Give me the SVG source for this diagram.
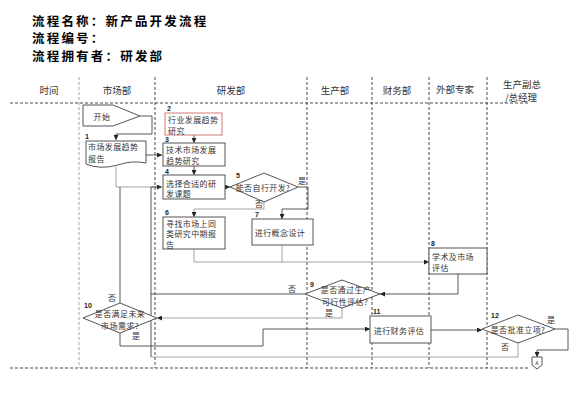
<svg xmlns="http://www.w3.org/2000/svg" width="577" height="400" viewBox="0 0 577 400">
<style>
.title{font-family:"Noto Sans CJK SC","Liberation Sans",sans-serif;font-size:12.5px;letter-spacing:2.2px;font-weight:bold;fill:#000}
.hdr{font-family:"Noto Sans CJK SC","Liberation Sans",sans-serif;font-size:9.5px;fill:#333}
.t{font-family:"Noto Sans CJK SC","Liberation Sans",sans-serif;font-size:8px;letter-spacing:0.4px;fill:#333}
.n{font-family:"Liberation Sans",sans-serif;font-size:7px;font-weight:bold;fill:#222}
.box{fill:#fff;stroke:#555;stroke-width:1}
.red{fill:#fff;stroke:#d47a7a;stroke-width:1}
.dash{fill:none;stroke:#333;stroke-width:0.9;stroke-dasharray:3,2}
.dashl{fill:none;stroke:#999;stroke-width:0.9;stroke-dasharray:3,2}
.c{fill:none;stroke:#444;stroke-width:0.9}
.cl{fill:none;stroke:#999;stroke-width:0.9}
.arr{marker-end:url(#ah)}
</style>
<defs>
<marker id="ah" viewBox="0 0 6 6" refX="6" refY="3" markerWidth="5" markerHeight="5" orient="auto" markerUnits="userSpaceOnUse">
<path d="M0,0 L6,3 L0,6 Z" fill="#222"/>
</marker>
</defs>
<rect width="577" height="400" fill="#fff"/>
<g id="title">
<text class="title" x="32" y="25.5">流程名称：新产品开发流程</text>
<text class="title" x="32" y="43">流程编号：</text>
<text class="title" x="32" y="60.5">流程拥有者：研发部</text>
</g>
<g id="lanes">
<line class="dash" x1="10" y1="103" x2="528" y2="103"/>
<line class="dash" x1="10" y1="368" x2="528" y2="368"/>
<line class="dashl" x1="79" y1="77" x2="79" y2="368"/>
<line class="dash" x1="155" y1="77" x2="155" y2="368"/>
<line class="dash" x1="307" y1="77" x2="307" y2="368"/>
<line class="dash" x1="372" y1="77" x2="372" y2="368"/>
<line class="dash" x1="429" y1="77" x2="429" y2="368"/>
<line class="dash" x1="487" y1="77" x2="487" y2="368"/>
<text class="hdr" x="49" y="94" text-anchor="middle">时间</text>
<text class="hdr" x="117" y="94" text-anchor="middle">市场部</text>
<text class="hdr" x="231" y="94" text-anchor="middle">研发部</text>
<text class="hdr" x="335" y="94" text-anchor="middle">生产部</text>
<text class="hdr" x="397" y="94" text-anchor="middle">财务部</text>
<text class="hdr" x="455" y="93" text-anchor="middle">外部专家</text>
<text class="hdr" x="522" y="88" text-anchor="middle">生产副总</text>
<text class="hdr" x="521" y="101" text-anchor="middle">/总经理</text>
</g>
<g id="connectors">
<polyline class="c arr" points="140,116 152,116 152,134 116,134 116,140"/>
<polyline class="c arr" points="146,155 162,155"/>
<polyline class="c arr" points="194,135 194,143"/>
<polyline class="c arr" points="194,166 194,175"/>
<polyline class="cl arr" points="116,167 116,187 162,187"/>
<polyline class="c" points="120,303 120,187"/>
<polyline class="c" points="151,357 151,187 160,187"/>
<polyline class="c arr" points="225,187 230,187"/>
<polyline class="c arr" points="298,187 308,187 308,209 282,209 282,219"/>
<polyline class="cl arr" points="264,202 264,209 194,209 194,217"/>
<polyline class="cl" points="194,249 194,262"/>
<polyline class="cl" points="282,245 282,262"/>
<polyline class="cl arr" points="194,262 429,262"/>
<polyline class="c arr" points="458,274 458,294 380,294"/>
<polyline class="c" points="305,294 151,294"/>
<polyline class="cl arr" points="342,308 342,318 157,318"/>
<polyline class="c arr" points="120,333 120,346 263,346 263,329 370,329"/>
<polyline class="c arr" points="431,330 482,330"/>
<polyline class="cl" points="518,343 518,357 151,357"/>
<polyline class="c arr" points="555,329 568,329 568,350 537,350 537,357"/>
</g>
<g id="start">
<polygon class="box" points="83,105 113,105 140,116 113,126 83,126"/>
<text class="t" x="102" y="119.5" text-anchor="middle">开始</text>
</g>
<g id="n1">
<path class="box" d="M86,141 H146 V163 Q132,160 118,165 Q100,170 86,164 Z"/>
<text class="n" x="85" y="139">1</text>
<text class="t" x="88" y="150">市场发展趋势</text>
<text class="t" x="88" y="162">报告</text>
</g>
<g id="n2">
<rect class="red" x="165" y="113" width="57" height="22"/>
<text class="n" x="167" y="111">2</text>
<text class="t" x="168" y="123">行业发展趋势</text>
<text class="t" x="168" y="133.5">研究</text>
</g>
<g id="n3">
<rect class="box" x="163" y="143" width="62" height="23"/>
<text class="n" x="165" y="142">3</text>
<text class="t" x="166" y="153.3">技术市场发展</text>
<text class="t" x="166" y="163.8">趋势研究</text>
</g>
<g id="n4">
<rect class="box" x="163" y="175" width="62" height="24"/>
<text class="n" x="165" y="174">4</text>
<text class="t" x="166" y="186.5">选择合适的研</text>
<text class="t" x="166" y="197">发课题</text>
</g>
<g id="n5">
<polygon class="box" points="230,187 264,173 298,187 264,202"/>
<text class="n" x="236" y="178">5</text>
<text class="t" x="263" y="190.5" text-anchor="middle">能否自行开发?</text>
<text class="t" x="298" y="184">是</text>
<text class="t" x="255" y="207">否</text>
</g>
<g id="n6">
<rect class="box" x="163" y="217" width="62" height="32"/>
<text class="n" x="165" y="215">6</text>
<text class="t" x="166" y="226.8">寻找市场上同</text>
<text class="t" x="166" y="237.3">类研究中期报</text>
<text class="t" x="166" y="247.8">告</text>
</g>
<g id="n7">
<rect class="box" x="252" y="219" width="61" height="26"/>
<text class="n" x="255" y="217">7</text>
<text class="t" x="280" y="236" text-anchor="middle">进行概念设计</text>
</g>
<g id="n8">
<rect class="box" x="429" y="248" width="58" height="26"/>
<text class="n" x="431" y="246">8</text>
<text class="t" x="432" y="260">学术及市场</text>
<text class="t" x="432" y="271">评估</text>
</g>
<g id="n9">
<polygon class="box" points="305,294 342,280 380,294 342,308"/>
<text class="n" x="310" y="287">9</text>
<text class="t" x="346" y="292.5" text-anchor="middle">是否通过生产</text>
<text class="t" x="345" y="305" text-anchor="middle">可行性评估?</text>
<text class="t" x="288" y="292">否</text>
<text class="t" x="325" y="316">是</text>
</g>
<g id="n10">
<polygon class="box" points="83,318 120,303 157,318 120,333"/>
<text class="n" x="84" y="308">10</text>
<text class="t" x="120" y="317" text-anchor="middle">是否满足未来</text>
<text class="t" x="120" y="328.5" text-anchor="middle">市场需求?</text>
<text class="t" x="108" y="301">否</text>
<text class="t" x="132" y="339">是</text>
</g>
<g id="n11">
<rect class="box" x="370" y="316" width="61" height="27"/>
<text class="n" x="373" y="314">11</text>
<text class="t" x="399" y="334" text-anchor="middle">进行财务评估</text>
</g>
<g id="n12">
<polygon class="box" points="482,329 518,315 555,329 518,343"/>
<text class="n" x="491" y="318">12</text>
<text class="t" x="518" y="333" text-anchor="middle">是否批准立项?</text>
<text class="t" x="547" y="323">是</text>
<text class="t" x="501" y="350">否</text>
</g>
<g id="offpage">
<polygon class="box" points="532,357 542,357 542,365 537,369 532,365"/>
<text class="n" x="537" y="365" text-anchor="middle" style="font-size:5px;font-weight:normal">A</text>
</g>
</svg>
